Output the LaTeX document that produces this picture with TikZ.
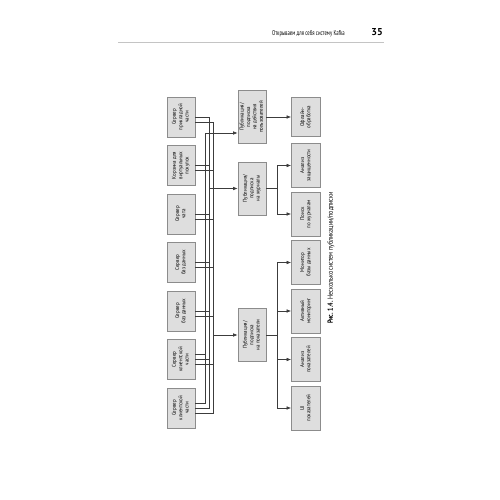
\documentclass[tikz,border=0pt]{standalone}
\usepackage{fontspec}
\usepackage{graphicx}
\usetikzlibrary{arrows.meta,calc}
\setmainfont{PT Sans}
\newfontfamily\boxfont{PT Sans}[FakeStretch=0.9]
\newfontfamily\hdrfont{PT Sans}[FakeStretch=0.68]
\newfontfamily\capfont{PT Sans}[FakeStretch=0.8]
\definecolor{boxfill}{HTML}{DEDEDE}
\definecolor{boxline}{HTML}{8C8C8C}
\definecolor{wirecol}{HTML}{3C3C3C}
\definecolor{rulecol}{HTML}{C4C4C4}
\newcommand{\rt}[1]{\rotatebox{90}{\begin{tabular}{@{}c@{}}#1\end{tabular}}}

\begin{document}
\begin{tikzpicture}[x=1pt,y=-1pt,
	box/.style={draw=boxline,fill=boxfill,line width=0.7pt,inner sep=0pt,minimum width=28pt,font=\boxfont\fontsize{5.5}{6.4}\selectfont},
	srv/.style={box,minimum height=40pt},
	psub/.style={box,minimum height=53pt},
	sink/.style={box,minimum width=29pt,minimum height=44pt},
	wire/.style={draw=wirecol,line width=0.6pt},
	arr/.style={wire,-{Latex[length=4.5pt,width=3.6pt]}}]
		\useasboundingbox (0,0) rectangle (500,500);
		% header
		\node [anchor=base east,inner sep=0pt,font=\hdrfont\fontsize{7}{8}\selectfont] (hdr) at (345,36) {Открываем для себя систему Kafka};
		\node [anchor=base east,inner sep=0pt,font=\bfseries\fontsize{10}{12}\selectfont] (pgno) at (383,36) {35};
		\draw [rulecol,line width=1pt] (118,43) -- (384,43);
		% sources
		\node [srv] (app) at (181,117) {\rt{Сервер\\прикладной\\части}};
		\node [srv] (cart) at (181,165.5) {\rt{Корзина для\\виртуальных\\покупок}};
		\node [srv] (chat) at (181,214) {\rt{Сервер\\чата}};
		\node [srv] (db1) at (181,262.5) {\rt{Сервер\\баз данных}};
		\node [srv] (db2) at (181,311) {\rt{Сервер\\баз данных}};
		\node [srv] (fe1) at (181,359.5) {\rt{Сервер\\клиентской\\части}};
		\node [srv] (fe2) at (181,408) {\rt{Сервер\\клиентской\\части}};
		% pub/sub
		\node [psub] (pusers) at (252,117) {\rt{Публикация/\\подписка\\на действия\\пользователей}};
		\node [psub] (plogs) at (252,188.5) {\rt{Публикация/\\подписка\\на журналы}};
		\node [psub] (pmet) at (252,335) {\rt{Публикация/\\подписка\\на показатели}};
		% consumers
		\node [sink,minimum height=39pt] (offline) at (306,117) {\rt{Офлайн-\\обработка}};
		\node [sink] (sec) at (306,165.5) {\rt{Анализ\\защищенности}};
		\node [sink] (srch) at (306,214) {\rt{Поиск\\по журналам}};
		\node [sink] (dbmon) at (306,262.5) {\rt{Монитор\\базы данных}};
		\node [sink] (actmon) at (306,311) {\rt{Активный\\мониторинг}};
		\node [sink] (metan) at (306,359.5) {\rt{Анализ\\показателей}};
		\node [sink] (metui) at (306,408) {\rt{UI\\показателей}};
		% buses
		\coordinate (ubus) at (205,133);
		\coordinate (lbus) at (209,117);
		\coordinate (mbus) at (213,122);
		\draw [wire] (ubus) |- ($(fe2.east)+(0,-5)$);
		\draw [wire] (app.east) -- (lbus) |- (fe2.east);
		\draw [wire] ($(app.east)+(0,5)$) -- (mbus) |- ($(fe2.east)+(0,5)$);
		\foreach \s in {cart,chat,db1,db2,fe1} {
			\draw [wire] (\s.east) -- (\s.east -| lbus);
			\draw [wire] ($(\s.east)+(0,5)$) -- ($(\s.east -| mbus)+(0,5)$);
		}
		\draw [wire] ($(fe1.east)+(0,-5)$) -- ($(fe1.east -| ubus)+(0,-5)$);
		\draw [arr] (ubus) -- (ubus -| pusers.west);
		\draw [arr] (plogs.west -| lbus) -- (plogs.west);
		\draw [arr] (pmet.west -| mbus) -- (pmet.west);
		% outputs
		\draw [arr] (pusers.east) -- (offline.west);
		\foreach \t in {sec,srch}
			\draw [arr] (plogs.east) -- ++(11,0) |- (\t.west);
		\foreach \t in {dbmon,actmon,metan,metui}
			\draw [arr] (pmet.east) -- ++(11,0) |- (\t.west);
		% caption
		\node [rotate=90,inner sep=0pt,font=\capfont\fontsize{7.5}{9}\selectfont] (cap) at (331,258) {\textbf{Рис. 1.4.} Несколько систем публикации/подписки};
	\end{tikzpicture}
\end{document}
